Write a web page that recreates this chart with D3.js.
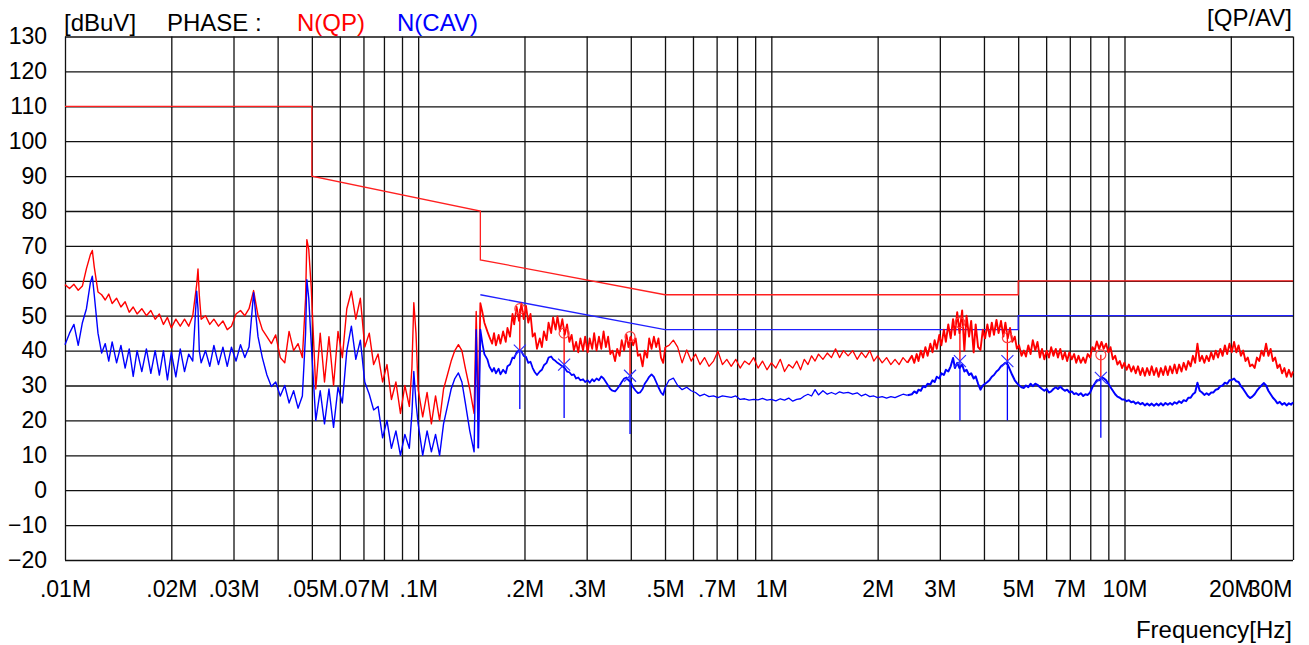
<!DOCTYPE html>
<html><head><meta charset="utf-8">
<script src="https://cdn.jsdelivr.net/npm/d3@7"></script>
<style>
html,body{margin:0;padding:0;background:#fff;}
svg text{font-family:"Liberation Sans",Arial,sans-serif;}
</style></head>
<body><svg id="c" width="1309" height="645"></svg>
<script>
// ---------- data (frequency in MHz, level in dBuV) ----------
// band 1: 0.01 - 0.15 MHz
const freqA = [
0.0100,0.0103,0.0106,0.0109,0.0112,0.0115,0.0118,0.01195,0.0121,0.0124,0.0127,0.0130,0.0133,0.0136,0.0140,0.0144,0.0148,0.0152,0.0156,0.0160,
0.0165,0.0170,0.0175,0.0180,0.0185,0.0190,0.0195,0.0200,0.0206,0.0212,0.0218,0.0224,0.0230,0.0236,0.0238,0.0240,0.0243,0.0250,0.0257,0.0264,
0.0272,0.0280,0.0288,0.0296,0.0305,0.0314,0.0323,0.0332,0.0342,0.0352,0.0362,0.0373,0.0384,0.0395,0.0407,0.0419,0.0431,0.0444,0.0457,0.0470,
0.0480,0.0484,0.0490,0.0498,0.0513,0.0528,0.0543,0.0559,0.0576,0.0593,0.0610,0.0628,0.0647,0.0666,0.0686,0.0706,0.0727,0.0748,0.0770,0.0793,
0.0816,0.0840,0.0865,0.0891,0.0917,0.0944,0.0960,0.0972,0.0986,
0.100,0.103,0.106,0.109,0.112,0.115,0.118,0.121,0.124,0.127,0.130,0.133,0.136,0.140,0.144,0.146,0.148];
const qpA = [
58.9,57.8,59.0,57.3,58.5,63.5,67.5,68.7,64.0,56.8,56.0,54.5,56.2,53.5,55.0,52.5,54.0,51.0,52.5,50.5,
52.0,50.0,51.5,49.0,50.5,47.5,49.5,46.5,49.0,47.0,49.0,47.0,50.0,59.0,63.4,56.0,49.0,50.0,47.5,49.0,
47.0,48.5,46.0,47.0,50.5,51.5,50.0,52.0,57.2,50.0,46.0,44.0,42.0,44.5,38.0,36.5,45.5,40.0,42.0,38.0,
55.0,71.8,69.0,58.0,29.0,45.0,31.0,44.0,30.0,45.5,38.0,52.0,57.0,49.0,55.0,41.0,45.0,36.0,39.0,31.0,
36.0,26.0,31.0,22.0,30.0,24.0,35.0,53.7,45.0,
28.8,21.0,28.0,19.0,27.0,20.0,29.0,33.0,37.0,40.0,41.7,40.0,35.0,29.0,22.0,51.2,20.0];
const cavA = [
41.7,45.0,47.5,41.5,48.0,52.0,59.5,61.3,56.0,45.0,39.3,42.0,37.0,42.5,36.5,41.5,35.0,40.5,32.6,40.0,
34.0,40.5,33.5,40.0,33.0,40.0,31.6,39.5,32.5,40.5,34.0,39.0,37.0,57.0,52.0,40.0,36.5,40.0,35.5,41.5,
36.0,41.0,35.5,41.0,37.0,41.7,38.0,41.0,56.6,44.0,38.0,33.0,29.7,31.0,27.0,30.0,25.0,28.5,23.5,27.0,
45.0,60.3,55.0,42.0,20.0,28.5,19.0,29.0,18.0,29.5,25.0,40.0,47.0,37.5,43.0,31.0,27.5,23.0,24.0,15.0,
20.0,12.0,17.0,10.0,16.0,12.0,22.0,34.0,25.0,
19.0,10.0,17.0,11.0,16.0,10.0,19.0,24.0,29.0,32.0,33.6,31.0,25.0,17.0,11.0,46.0,12.0];

// band 2a: 0.15 - 0.5 MHz
const freqB = [
0.150,0.152,0.154,0.157,0.159,0.162,0.164,0.166,0.169,0.171,
0.174,0.177,0.179,0.182,0.185,0.187,0.190,0.193,0.196,0.199,
0.202,0.205,0.208,0.211,0.214,0.217,0.221,0.224,0.227,0.231,
0.234,0.238,0.241,0.245,0.248,0.252,0.256,0.260,0.264,0.268,
0.272,0.276,0.280,0.284,0.288,0.293,0.297,0.302,0.306,0.311,
0.315,0.320,0.325,0.330,0.335,0.340,0.345,0.350,0.355,0.361,
0.366,0.372,0.377,0.383,0.389,0.394,0.400,0.406,0.413,0.419,
0.425,0.432,0.438,0.445,0.451,0.458,0.465,0.472,0.479,0.487,
0.494,0.501];
const qpB = [
53.6,51.0,48.0,45.5,44.0,42.0,45.0,41.5,44.5,42.0,
45.5,42.5,46.5,44.0,50.5,47.5,52.5,48.5,53.5,49.0,
52.8,48.0,50.5,44.0,45.0,40.5,43.5,41.0,45.5,43.0,
48.0,45.0,49.5,46.0,49.8,45.5,49.0,44.5,47.5,42.5,
44.5,40.0,42.5,39.5,43.5,40.0,44.0,39.5,43.5,40.5,
45.0,40.0,44.0,40.5,45.5,41.0,44.0,39.0,40.0,37.0,
40.5,38.5,43.0,40.0,44.5,41.0,44.0,41.5,43.5,38.5,
39.0,35.5,40.0,38.0,43.5,40.5,44.0,41.0,43.5,38.0,
36.5,41.0];
const cavB = [
46.0,42.0,39.0,37.5,35.5,34.0,35.0,33.5,34.8,33.2,
34.5,33.5,35.5,36.0,38.0,37.8,39.5,40.0,39.8,38.5,
38.2,36.5,36.8,35.0,33.8,33.0,34.0,34.5,35.8,36.5,
38.0,38.3,37.5,37.0,36.5,36.0,35.5,35.0,34.0,33.8,
33.0,33.2,32.0,32.3,31.5,31.8,31.0,31.5,30.8,31.8,
31.2,32.0,31.5,32.6,32.0,31.0,30.0,29.0,28.5,28.3,
29.0,30.0,31.0,32.0,32.3,31.5,31.0,29.5,28.5,27.8,
28.0,29.0,30.5,31.5,32.5,33.2,32.5,31.0,29.5,28.0,
27.3,29.5];

// band 2b: 0.5 - 2.5 MHz
const freqC = [
0.513,0.528,0.543,0.559,0.576,0.593,0.610,0.628,0.647,0.666,
0.686,0.706,0.727,0.748,0.770,0.793,0.816,0.840,0.865,0.891,
0.917,0.944,0.972,
1.00,1.03,1.06,1.09,1.12,1.15,1.18,1.21,1.24,1.27,
1.30,1.33,1.36,1.40,1.44,1.48,1.52,1.56,1.60,1.65,
1.70,1.75,1.80,1.85,1.90,1.95,2.00,2.06,2.12,2.18,
2.24,2.30,2.36,2.43];
const qpC = [
41.5,43.0,41.0,36.5,40.2,37.0,39.0,36.0,38.0,35.5,
37.0,39.8,36.0,37.5,35.5,37.5,35.0,37.0,36.0,38.0,
35.0,37.0,34.5,
36.5,35.0,37.5,34.0,36.0,35.0,37.0,34.5,37.5,36.0,
38.5,37.0,39.0,37.5,39.3,38.0,40.5,38.0,40.0,38.5,
40.0,37.5,39.5,38.0,40.0,37.0,38.5,36.5,38.0,36.0,
37.5,36.0,38.0,36.5];
const cavC = [
31.5,32.1,30.0,28.8,29.5,28.5,28.0,27.0,27.5,26.8,
27.0,26.5,27.0,26.8,26.6,27.0,26.0,26.2,25.8,26.0,
25.9,26.3,25.8,
26.0,25.6,26.2,25.8,26.4,25.5,26.0,26.2,27.0,27.5,
27.0,28.8,27.3,28.5,27.5,28.0,27.5,28.2,27.8,28.0,
27.5,27.9,27.0,27.5,26.8,27.0,26.5,26.8,26.4,26.8,
26.5,27.0,27.5,27.2];

// band 2c: 2.5 - 30 MHz
const freqD = [
2.50,2.54,2.58,2.61,2.65,2.69,2.73,2.77,2.82,2.86,
2.90,2.94,2.99,3.03,3.08,3.12,3.17,3.22,3.27,3.31,
3.36,3.41,3.47,3.52,3.57,3.63,3.68,3.74,3.79,3.85,
3.91,3.97,4.03,4.09,4.15,4.21,4.27,4.34,4.40,4.47,
4.54,4.60,4.67,4.74,4.81,4.89,4.96,5.03,5.11,5.19,
5.26,5.34,5.42,5.50,5.59,5.67,5.76,5.84,5.93,6.02,
6.11,6.20,6.29,6.39,6.48,6.58,6.68,6.78,6.88,6.98,
7.09,7.20,7.30,7.41,7.52,7.64,7.75,7.87,7.99,8.11,
8.23,8.35,8.48,8.61,8.73,8.87,9.00,9.13,9.27,9.41,
9.55,9.70,9.84,9.99,10.14,10.29,10.45,10.60,10.76,10.92,
11.09,11.25,11.42,11.59,11.77,11.94,12.12,12.31,12.49,12.68,
12.87,13.06,13.26,13.46,13.66,13.86,14.07,14.28,14.50,14.71,
14.94,15.16,15.39,15.62,15.85,16.09,16.33,16.58,16.83,17.08,
17.34,17.60,17.86,18.13,18.40,18.68,18.96,19.24,19.53,19.83,
20.12,20.43,20.73,21.04,21.36,21.68,22.01,22.34,22.67,23.01,
23.36,23.71,24.07,24.43,24.79,25.17,25.55,25.93,26.32,26.71,
27.11,27.52,27.94,28.36,28.78,29.21,29.65,30.00];
const qpD = [
38.5,36.5,39.0,37.0,40.0,38.0,41.0,38.5,42.0,39.5,
43.0,40.5,44.5,41.5,46.0,42.5,47.5,43.5,49.0,44.5,
51.0,45.0,51.5,40.0,50.0,44.0,48.5,39.5,47.5,41.0,
40.2,46.0,43.5,47.5,44.0,48.0,44.5,48.8,45.0,48.5,
44.0,48.0,43.5,46.5,42.5,44.0,40.5,41.5,38.5,40.0,
38.3,41.5,39.0,43.0,40.0,42.5,38.0,40.5,37.5,40.0,
38.0,41.0,38.5,40.5,38.0,40.5,37.5,39.5,37.0,39.5,
37.5,39.0,36.5,38.5,36.5,38.0,36.5,39.0,38.0,41.0,
40.0,42.6,40.5,42.5,40.5,42.0,39.5,41.0,37.5,38.5,
36.0,37.0,35.0,36.5,34.5,36.0,34.0,35.5,33.5,35.5,
33.0,35.0,32.8,35.0,33.0,35.5,33.0,35.0,32.5,35.0,
33.0,35.5,33.0,35.5,33.5,36.0,33.5,36.0,34.0,36.5,
34.5,37.0,35.5,38.5,36.5,42.0,37.0,38.5,36.5,38.5,
37.0,39.5,37.5,40.0,38.0,40.5,38.5,41.5,39.0,42.0,
39.5,42.5,39.5,41.5,38.5,40.0,37.0,38.0,35.5,36.0,
35.0,38.0,37.0,40.0,38.5,42.0,38.5,40.5,37.0,38.0,
35.0,36.0,33.5,35.0,32.5,34.5,32.5,34.0];
const cavD = [
27.5,28.3,27.8,28.8,28.5,29.8,29.5,30.5,30.3,31.5,
31.0,32.5,32.0,33.5,33.0,34.5,34.0,35.5,37.9,35.0,
36.5,35.0,36.0,34.0,34.5,33.0,33.5,32.0,32.6,30.5,
28.8,30.0,30.5,31.0,31.6,32.5,33.0,34.0,34.5,35.5,
36.0,36.5,36.0,34.5,33.0,31.5,30.7,30.0,29.5,29.3,
30.0,29.5,30.5,29.8,30.5,30.2,29.5,29.0,28.5,29.0,
28.0,28.3,29.0,29.5,29.0,29.7,29.0,28.5,28.8,28.0,
28.3,27.5,27.8,27.3,27.8,27.0,27.5,27.3,28.0,29.5,
30.5,31.5,31.5,32.3,32.1,31.5,30.5,29.5,28.5,27.5,
26.8,26.5,26.0,26.0,25.5,25.8,25.2,25.4,24.8,25.2,
24.6,25.0,24.3,24.8,24.3,24.8,24.2,24.8,24.3,24.9,
24.3,25.0,24.5,25.0,24.5,25.2,24.8,25.5,25.0,25.8,
25.5,26.5,26.5,27.5,28.0,30.8,28.5,28.0,27.3,27.8,
27.3,28.0,28.0,28.8,29.0,29.8,30.0,30.8,30.5,31.5,
31.6,32.0,31.2,31.0,29.8,29.0,28.0,27.0,26.4,26.8,
27.5,28.5,29.3,30.0,30.7,30.0,28.5,27.5,26.5,25.8,
24.9,25.3,24.5,25.0,24.3,24.9,24.5,25.2];

// limit lines
const qpLimitFreq = [0.01,0.05,0.05,0.15,0.15,0.5,5,5,30];
const qpLimitDb   = [110,110,90,80,66,56,56,60,60];
const avLimitFreq = [0.15,0.5,5,5,30];
const avLimitDb   = [56,46,46,50,50];

// final measurement markers
const markFreq = [0.194,0.259,0.398,3.42,4.66,8.57];
const markQp   = [52.0,45.0,44.0,48.0,43.7,38.8];
const markCav  = [40.0,36.0,32.8,37.0,37.0,32.2];
const markBase = [23.3,20.7,16.1,20.0,20.0,15.0];

// axes
const yTicks = [-20,-10,0,10,20,30,40,50,60,70,80,90,100,110,120,130];
const xTickVals = [0.01,0.02,0.03,0.05,0.07,0.1,0.2,0.3,0.5,0.7,1,2,3,5,7,10,20,30];
const xTickLabels = [".01M",".02M",".03M",".05M",".07M",".1M",".2M",".3M",".5M",".7M","1M","2M","3M","5M","7M","10M","20M","30M"];
const gridFreq = [0.01,0.02,0.03,0.04,0.05,0.06,0.07,0.08,0.09,0.1,0.2,0.3,0.4,0.5,0.6,0.7,0.8,0.9,1,2,3,4,5,6,7,8,9,10,20,30];

// ---------- drawing ----------
const svg = d3.select("#c");
const L = 65, R = 1293, T = 36.5, B = 560;
const x = d3.scaleLog().domain([0.01,30]).range([L,R]);
const y = d3.scaleLinear().domain([-20,130]).range([B,T]);
const FS = 23;

// grid
const gridV = svg.append("g").attr("transform",`translate(0,${B})`)
  .call(d3.axisBottom(x).tickValues(gridFreq).tickSize(-(B-T)).tickFormat(""));
const gridH = svg.append("g").attr("transform",`translate(${L},0)`)
  .call(d3.axisLeft(y).tickValues(yTicks).tickSize(-(R-L)).tickFormat(""));
[gridV,gridH].forEach(g=>{
  g.select(".domain").remove();
  g.selectAll("line").attr("stroke","#111").attr("stroke-width",1.3);
});

// tick labels
const xAx = svg.append("g").attr("transform",`translate(0,${B})`)
  .call(d3.axisBottom(x).tickValues(xTickVals).tickSize(0).tickPadding(21)
    .tickFormat((d,i)=>xTickLabels[i]));
xAx.select(".domain").remove();
xAx.selectAll("text").attr("font-size",FS).attr("fill","#000")
  .attr("font-family","Liberation Sans, Arial, sans-serif");
xAx.selectAll("text").filter((d,i)=>i===xTickVals.length-1)
  .attr("text-anchor","end").attr("dx",-1);

const yAx = svg.append("g").attr("transform",`translate(${L},0)`)
  .call(d3.axisLeft(y).tickValues(yTicks).tickSize(0).tickPadding(18));
yAx.select(".domain").remove();
yAx.selectAll("text").attr("font-size",FS).attr("fill","#000")
  .attr("font-family","Liberation Sans, Arial, sans-serif");

// limit lines
const lim = d3.line().x(d=>x(d[0])).y(d=>y(d[1]));
svg.append("path").datum(qpLimitFreq.map((f,i)=>[f,qpLimitDb[i]]))
  .attr("d",lim).attr("fill","none").attr("stroke","#ff2020").attr("stroke-width",1.3);
svg.append("path").datum(avLimitFreq.map((f,i)=>[f,avLimitDb[i]]))
  .attr("d",lim).attr("fill","none").attr("stroke","#2020ff").attr("stroke-width",1.3);

// traces (drawn per sweep segment; dense-noise segments get a heavier stroke)
const pairs = (fs,vs)=>fs.slice(0,Math.min(fs.length,vs.length)).map((f,i)=>[f,vs[i]]);
const tr = d3.line().x(d=>x(d[0])).y(d=>y(d[1]));
function drawTrace(segs, widths, color){
  let prev = null;
  segs.forEach((s,i)=>{
    const d = prev ? [prev].concat(s) : s;
    svg.append("path").datum(d).attr("d",tr).attr("fill","none")
      .attr("stroke",color).attr("stroke-width",widths[i]).attr("stroke-linejoin","round");
    prev = s[s.length-1];
  });
}
drawTrace([pairs(freqA,qpA),pairs(freqB,qpB),pairs(freqC,qpC),pairs(freqD,qpD)],
          [1.4,1.8,1.3,1.9],"#ff0000");
drawTrace([pairs(freqA,cavA),pairs(freqB,cavB),pairs(freqC,cavC),pairs(freqD,cavD)],
          [1.4,1.8,1.3,2.0],"#0000ff");

// markers
const mk = svg.append("g");
markFreq.forEach((f,i)=>{
  const mx = x(f);
  mk.append("line").attr("x1",mx).attr("x2",mx).attr("y1",y(markQp[i])).attr("y2",y(markCav[i]))
    .attr("stroke","#ff0000").attr("stroke-width",1.3);
  mk.append("line").attr("x1",mx).attr("x2",mx).attr("y1",y(markCav[i])).attr("y2",y(markBase[i]))
    .attr("stroke","#0000ff").attr("stroke-width",1.3);
  mk.append("circle").attr("cx",mx).attr("cy",y(markQp[i])).attr("r",5)
    .attr("fill","none").attr("stroke","#ff4040").attr("stroke-width",1.2);
  const cy = y(markCav[i]), s = 6;
  mk.append("path").attr("d",`M${mx-s},${cy-s}L${mx+s},${cy+s}M${mx-s},${cy+s}L${mx+s},${cy-s}`)
    .attr("stroke","#3030ff").attr("stroke-width",1.2).attr("fill","none");
});

// header / footer texts
const txt = (t,xx,yy,col,anchor)=>svg.append("text").text(t).attr("x",xx).attr("y",yy)
  .attr("font-size",FS+1).attr("fill",col).attr("text-anchor",anchor||"start");
txt("[dBuV]",64,31,"#000");
txt("PHASE :",167,31,"#000");
txt("N(QP)",297,31,"#ff0000");
txt("N(CAV)",397,31,"#0000ff");
txt("[QP/AV]",1292,26,"#000","end");
txt("Frequency[Hz]",1292,638,"#000","end");
</script></body></html>
